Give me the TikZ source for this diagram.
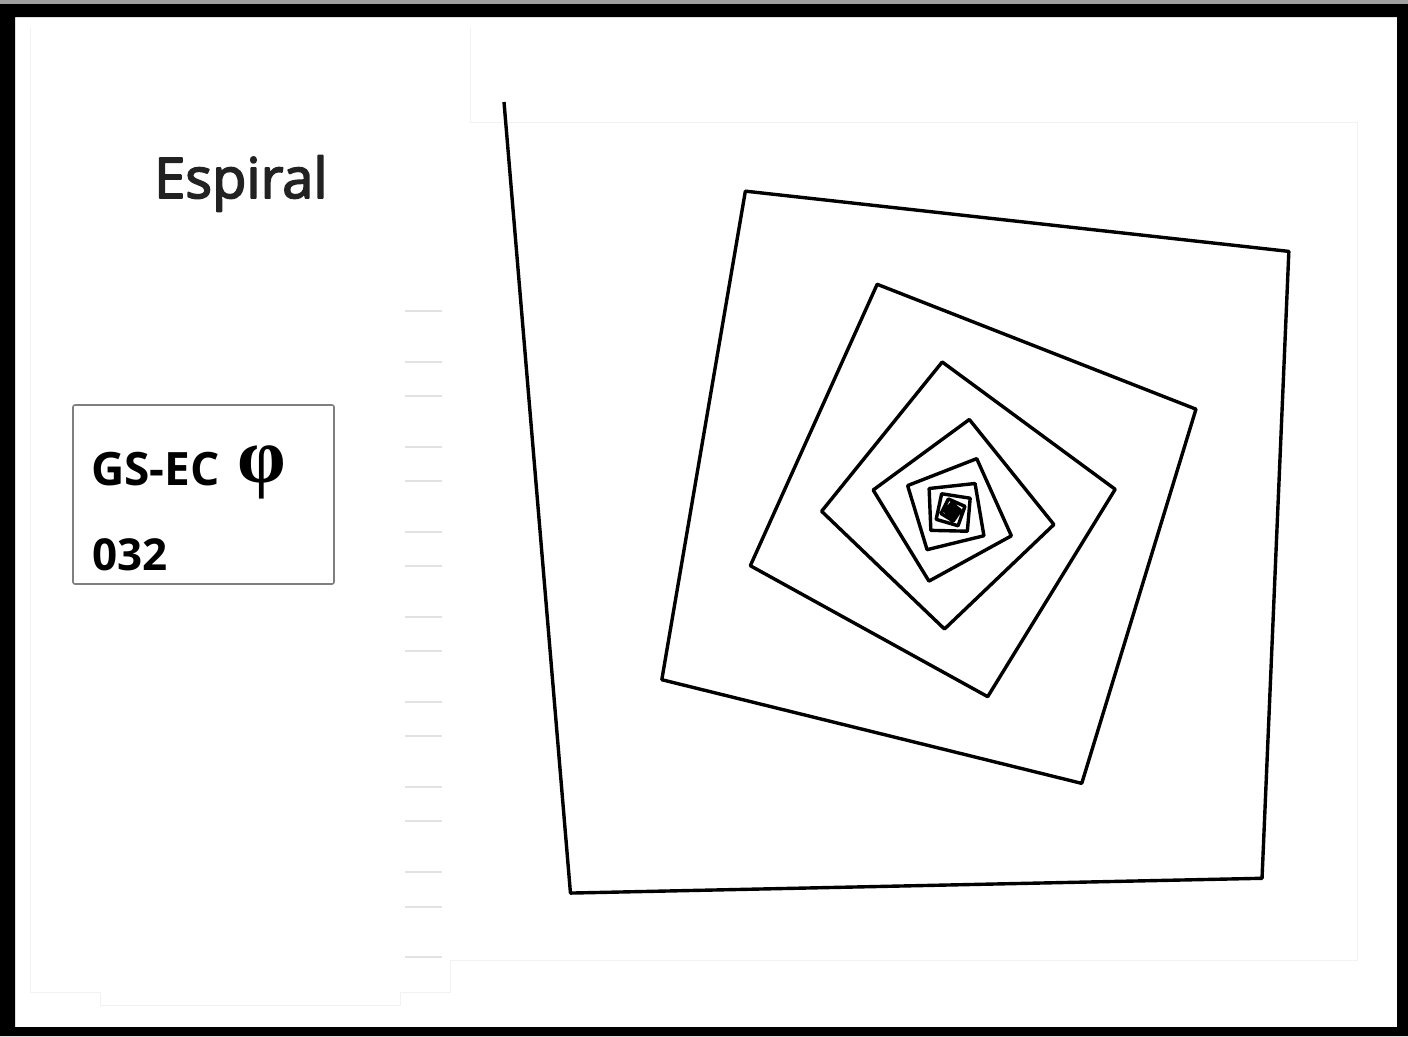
\documentclass[tikz,border=0pt]{standalone}
\usepackage{fontspec}
\setmainfont{Open Sans}
\newfontfamily\phifont{Liberation Serif}
\newfontfamily\titlefont{Open Sans}[FakeBold=3]
\usepackage{tikz}
\usetikzlibrary{positioning, calc}
\definecolor{TitleGrey}{HTML}{222222}
\definecolor{BoxGrey}{HTML}{7F7F7F}
\definecolor{TickGrey}{HTML}{E2E2E2}
\definecolor{GhostGrey}{HTML}{F2F2F2}
\definecolor{EdgeGrey}{HTML}{A0A0A0}

\begin{document}
\begin{tikzpicture}[x=1pt, y=-1pt, line join=round]
    \tikzstyle{spiral} = [draw, black, line width=3.4pt, line join=round]
    \tikzstyle{tick} = [draw, TickGrey, line width=2pt]
    \tikzstyle{ghost} = [draw, GhostGrey, line width=1pt]
    \tikzstyle{idframe} = [rectangle, draw=BoxGrey, line width=1.6pt, rounded corners=2pt, minimum width=261pt, minimum height=179pt, inner sep=0pt]
    \tikzstyle{label} = [inner sep=0pt, anchor=base west]

    \useasboundingbox (0,0) rectangle (1408,1036);
    \fill[white] (0,0) rectangle (1408,1036);

    % faint window outlines and ticks
    \draw[ghost] (470,28) -- (470,122) -- (1357,122) -- (1357,960) -- (450,960);
    \draw[ghost] (30,28) -- (30,992) -- (100,992) -- (100,1005) -- (400,1005) -- (400,992) -- (450,992) -- (450,960);
    \foreach \ty in {311,362,396,447,481,532,566,617,651,702,736,787,821,872,907,957}
        \draw[tick] (405,\ty) -- (442,\ty);

    % title and id box
    \node[label, text=TitleGrey] (title) at (154,198) {\titlefont\fontsize{56}{64}\selectfont Espiral};
    \node[idframe] (idbox) at (203.5,494.5) {};
    \node[label] (idname) at (91,485) {\fontsize{46}{52}\selectfont\bfseries GS-EC};
    \node[label] (idphi) at (237,482) {\phifont\fontsize{78}{80}\selectfont\bfseries φ};
    \node[label] (idnum) at (92,570) {\fontsize{44}{50}\selectfont\bfseries 032};

    % the spiral
    \coordinate (start) at (504,102);
    \begin{scope}[x=0.98pt]
        \draw[spiral] (start) \foreach \i [evaluate=\i as \ang using {mod(85.1-86.3*\i,360)}, evaluate=\i as \len using {794*0.889^\i}] in {0,...,70} { -- ++(\ang:\len) };
    \end{scope}

    % screen frame
    \fill[EdgeGrey] (0,0) rectangle (1408,4);
    \fill[black, even odd rule] (0,4) rectangle (1408,1036) (15,17) rectangle (1397,1027);
\end{tikzpicture}
\end{document}
